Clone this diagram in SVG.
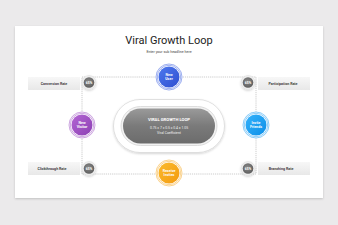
<svg xmlns="http://www.w3.org/2000/svg" width="338" height="225" viewBox="0 0 338 225">
<defs>
<style>
text{font-family:Roboto,"Liberation Sans",sans-serif}
.lbl{font-size:3.6px;fill:#444;font-weight:bold;text-anchor:middle}
.pct{font-size:3.4px;fill:#fff;font-weight:bold;text-anchor:middle}
.nd{font-size:3.6px;fill:#fff;font-weight:bold;text-anchor:middle}
.dash{fill:none;stroke:#999;stroke-width:0.5;stroke-dasharray:1.2 0.9}
</style>
<linearGradient id="box" x1="0" y1="0" x2="0" y2="1"><stop offset="0" stop-color="#f7f7f7"/><stop offset="1" stop-color="#e8e8e8"/></linearGradient>
<linearGradient id="pill" x1="0" y1="0" x2="0" y2="1"><stop offset="0" stop-color="#9a9a9a"/><stop offset="0.5" stop-color="#7a7a7a"/><stop offset="1" stop-color="#6c6c6c"/></linearGradient>
<linearGradient id="gB" x1="0" y1="0" x2="1" y2="1"><stop offset="0" stop-color="#4d78ee"/><stop offset="1" stop-color="#2f4fd0"/></linearGradient>
<linearGradient id="gP" x1="0" y1="0" x2="1" y2="1"><stop offset="0" stop-color="#b466d4"/><stop offset="1" stop-color="#8c3fb3"/></linearGradient>
<linearGradient id="gC" x1="0" y1="0" x2="1" y2="1"><stop offset="0" stop-color="#35b2fb"/><stop offset="1" stop-color="#0b8fe8"/></linearGradient>
<linearGradient id="gO" x1="0" y1="0" x2="1" y2="1"><stop offset="0" stop-color="#fbbb2c"/><stop offset="1" stop-color="#f39a10"/></linearGradient>
<radialGradient id="gray" cx="0.45" cy="0.4" r="0.6"><stop offset="0" stop-color="#8a8a8a"/><stop offset="1" stop-color="#5f5f5f"/></radialGradient>
<filter id="sh" x="-30%" y="-30%" width="160%" height="160%"><feDropShadow dx="0" dy="1" stdDeviation="1.2" flood-color="#000" flood-opacity="0.18"/></filter>
</defs>
<rect width="338" height="225" fill="#ebeaeb"/>
<rect x="15" y="26" width="308" height="172" fill="#fff" filter="url(#sh)"/>
<text x="169" y="44" font-size="11" fill="#222" text-anchor="middle">Viral Growth Loop</text>
<text x="169" y="52.5" font-size="3.6" fill="#444" text-anchor="middle">Enter your sub headline here</text>

<g id="connectors">
<rect class="dash" x="82" y="77" width="174" height="97"/>
</g>

<g id="center">
<rect x="113.5" y="99.5" width="111" height="53" rx="26.5" fill="#fff" stroke="#cfcfcf" stroke-width="0.6" filter="url(#sh)"/>
<rect x="121" y="106.5" width="96" height="39" rx="19.5" fill="#f2f2f2" stroke="#d5d5d5" stroke-width="0.8"/>
<rect x="123" y="108.5" width="92" height="35" rx="17.5" fill="url(#pill)"/>
<text x="169" y="121" font-size="4.2" fill="#fff" font-weight="bold" text-anchor="middle">VIRAL GROWTH LOOP</text>
<text x="169" y="128.5" font-size="3.4" fill="#f2f2f2" text-anchor="middle">0.75 x 7 x 0.5 x 0.4 = 1.05</text>
<text x="169" y="133.5" font-size="3.4" fill="#f2f2f2" text-anchor="middle">Viral Coefficient</text>
</g>

<g id="conversion">
<rect x="28" y="77" width="52" height="13" fill="url(#box)"/>
<text class="lbl" x="54" y="84.5">Conversion Rate</text>
</g>
<g id="participation">
<rect x="258" y="77" width="52" height="13" fill="url(#box)"/>
<text class="lbl" x="283" y="84.5">Participation Rate</text>
</g>
<g id="clickthrough">
<rect x="28" y="162" width="52" height="13" fill="url(#box)"/>
<text class="lbl" x="52" y="170">Clickthrough Rate</text>
</g>
<g id="branching">
<rect x="258" y="162" width="52" height="13" fill="url(#box)"/>
<text class="lbl" x="281" y="170">Branching Rate</text>
</g>

<g id="p1"><circle cx="89" cy="82.5" r="7" fill="#eee" stroke="#ddd" stroke-width="0.5" filter="url(#sh)"/><circle cx="89" cy="82.5" r="5.3" fill="url(#gray)"/><text class="pct" x="89" y="83.7">65%</text></g>
<g id="p2"><circle cx="248" cy="82.5" r="7" fill="#eee" stroke="#ddd" stroke-width="0.5" filter="url(#sh)"/><circle cx="248" cy="82.5" r="5.3" fill="url(#gray)"/><text class="pct" x="248" y="83.7">65%</text></g>
<g id="p3"><circle cx="89" cy="168.5" r="7" fill="#eee" stroke="#ddd" stroke-width="0.5" filter="url(#sh)"/><circle cx="89" cy="168.5" r="5.3" fill="url(#gray)"/><text class="pct" x="89" y="169.7">65%</text></g>
<g id="p4"><circle cx="248" cy="168.5" r="7" fill="#eee" stroke="#ddd" stroke-width="0.5" filter="url(#sh)"/><circle cx="248" cy="168.5" r="5.3" fill="url(#gray)"/><text class="pct" x="248" y="169.7">65%</text></g>

<g id="newUser">
<circle cx="169" cy="77" r="13.5" fill="#fff"/>
<circle cx="169" cy="77" r="13" fill="none" stroke="#3a5ee0" stroke-width="0.5"/>
<circle cx="169" cy="77" r="11.7" fill="none" stroke="#3a5ee0" stroke-width="0.5"/>
<circle cx="169" cy="77" r="10.5" fill="url(#gB)"/>
<text class="nd" x="169" y="75.8">New</text><text class="nd" x="169" y="80.3">User</text>
</g>
<g id="newVisitor">
<circle cx="82" cy="125" r="13.5" fill="#fff"/>
<circle cx="82" cy="125" r="13" fill="none" stroke="#9b4fc0" stroke-width="0.5"/>
<circle cx="82" cy="125" r="11.7" fill="none" stroke="#9b4fc0" stroke-width="0.5"/>
<circle cx="82" cy="125" r="10.5" fill="url(#gP)"/>
<text class="nd" x="82" y="123.8">New</text><text class="nd" x="82" y="128.3">Visitor</text>
</g>
<g id="inviteFriends">
<circle cx="256" cy="125" r="13.5" fill="#fff"/>
<circle cx="256" cy="125" r="13" fill="none" stroke="#1a9af0" stroke-width="0.5"/>
<circle cx="256" cy="125" r="11.7" fill="none" stroke="#1a9af0" stroke-width="0.5"/>
<circle cx="256" cy="125" r="10.5" fill="url(#gC)"/>
<text class="nd" x="256" y="123.8">Invite</text><text class="nd" x="256" y="128.3">Friends</text>
</g>
<g id="receiveInvites">
<circle cx="169" cy="173" r="13.5" fill="#fff"/>
<circle cx="169" cy="173" r="13" fill="none" stroke="#f5a51a" stroke-width="0.5"/>
<circle cx="169" cy="173" r="11.7" fill="none" stroke="#f5a51a" stroke-width="0.5"/>
<circle cx="169" cy="173" r="10.5" fill="url(#gO)"/>
<text class="nd" x="169" y="171.8">Receive</text><text class="nd" x="169" y="176.3">Invites</text>
</g>
</svg>
